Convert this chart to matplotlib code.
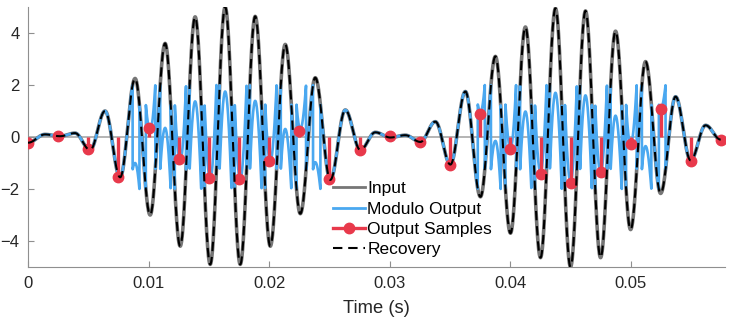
import numpy as np
import matplotlib
matplotlib.use("Agg")
import matplotlib.pyplot as plt
from matplotlib.lines import Line2D
from matplotlib.legend_handler import HandlerLine2D

plt.rcParams["font.family"] = ["Liberation Sans", "DejaVu Sans"]

# peaks / troughs of the input signal
ext_t = [0.0, 0.00141, 0.00266, 0.0039, 0.00515, 0.00639, 0.00764, 0.00888,
         0.01013, 0.01137, 0.01262, 0.01386, 0.01511, 0.01635, 0.0176, 0.01884,
         0.02009, 0.02133, 0.02258, 0.02382, 0.02507, 0.02631, 0.02756, 0.0288,
         0.03005, 0.03129, 0.03254, 0.03378, 0.03503, 0.03627, 0.03752, 0.03876,
         0.04001, 0.04125, 0.0425, 0.04374, 0.04499, 0.04623, 0.04748, 0.04872,
         0.04997, 0.05121, 0.05246, 0.0537, 0.05495, 0.05619, 0.05744]
ext_v = [-0.22, 0.1, 0.03, 0.15, -0.5, 1.0, -1.55, 2.25,
         -3.0, 3.6, -4.2, 4.62, -4.9, 5.0, -4.9, 4.64,
         -4.2, 3.56, -2.95, 2.28, -1.65, 1.04, -0.5, 0.18,
         -0.02, 0.07, -0.19, 0.59, -1.06, 1.75, -2.3, 3.1,
         -3.7, 4.23, -4.64, 4.95, -5.0, 4.85, -4.64, 4.07,
         -3.56, 2.9, -2.17, 1.55, -0.9, 0.45, -0.1]

# red stems
sample_t = [0.0, 0.0025, 0.005, 0.0075, 0.01, 0.0125, 0.015, 0.0175, 0.02, 0.0225,
            0.025, 0.0275, 0.03, 0.0325, 0.035, 0.0375, 0.04, 0.0425, 0.045, 0.0475,
            0.05, 0.0525, 0.055, 0.0575]
sample_v = [-0.22, 0.03, -0.48, -1.53, 0.36, -0.83, -1.57, -1.6, -0.93, 0.24,
            -1.63, -0.51, 0.03, -0.18, -1.06, 0.88, -0.47, -1.43, -1.77, -1.34,
            -0.27, 1.07, -0.92, -0.1]

mod_threshold = 2.0
mod_step = 3.25

x_ticks = [0, 0.01, 0.02, 0.03, 0.04, 0.05]
x_ticklabels = ["0", "0.01", "0.02", "0.03", "0.04", "0.05"]
y_ticks = [-4, -2, 0, 2, 4]

C_INPUT = "#767676"
C_MOD = "#4aa8f0"
C_RED = "#e8394b"
C_AXIS = "#8f8f8f"
C_TEXT = "#262626"


def through_extrema(te, ve, t):
    """Smooth curve that goes through each peak/trough (half-cosine pieces)."""
    te = np.asarray(te)
    ve = np.asarray(ve)
    i = np.clip(np.searchsorted(te, t, side="right") - 1, 0, len(te) - 2)
    s = (t - te[i]) / (te[i + 1] - te[i])
    return ve[i] + (ve[i + 1] - ve[i]) * (1 - np.cos(np.pi * s)) / 2


def folding(x, lam, step):
    """Modulo with hysteresis: fold by `step` once |y| passes `lam`."""
    y = np.empty_like(x)
    k = 0
    for n, xv in enumerate(x):
        v = xv + k * step
        while v > lam:
            k -= 1
            v -= step
        while v < -lam:
            k += 1
            v += step
        y[n] = v
    return y


t = np.linspace(ext_t[0], ext_t[-1], 12000)
x_in = through_extrema(ext_t, ext_v, t)
y_mod = folding(x_in, mod_threshold, mod_step)


class StemHandler(HandlerLine2D):
    # marker at the right end of the legend line, like a matlab stem legend
    def get_xdata(self, legend, xdescent, ydescent, width, height, fontsize):
        xdata, _ = super().get_xdata(legend, xdescent, ydescent, width, height, fontsize)
        return xdata, [xdata[-1]]


fig = plt.figure(figsize=(7.4, 3.26), dpi=100)
ax = fig.add_axes([28 / 740, 59 / 326, 697 / 740, 260 / 326])

ax.axhline(0, color="#a0a0a0", lw=1.1, zorder=1)
ax.plot(t, x_in, color=C_INPUT, lw=2.6, zorder=2)
ax.plot(t, y_mod, color=C_MOD, lw=1.9, zorder=3)
ax.vlines(sample_t, 0, sample_v, color=C_RED, lw=2.4, zorder=4)
ax.plot(sample_t, sample_v, "o", ms=7.5, color=C_RED, zorder=5)
ax.plot(t, x_in, color="black", lw=1.5, dashes=(4.5, 2.8), zorder=6)

ax.set_xlim(0, 0.0578)
ax.set_ylim(-5, 5)
ax.set_xticks(x_ticks)
ax.set_xticklabels(x_ticklabels)
ax.set_yticks(y_ticks)
ax.tick_params(axis="both", direction="in", length=4, width=0.8, color=C_AXIS,
               labelsize=12, labelcolor=C_TEXT)
ax.tick_params(axis="x", pad=6.5)
ax.tick_params(axis="y", pad=6)
for side in ("top", "right"):
    ax.spines[side].set_visible(False)
for side in ("left", "bottom"):
    ax.spines[side].set_color(C_AXIS)
    ax.spines[side].set_linewidth(0.8)
ax.set_xlabel("Time (s)", fontsize=13.2, color=C_TEXT, labelpad=6.5)

handles = [
    Line2D([], [], color=C_INPUT, lw=2.0),
    Line2D([], [], color=C_MOD, lw=2.0),
    Line2D([], [], color=C_RED, lw=2.4, marker="o", ms=7.5),
    Line2D([], [], color="black", lw=1.5, dashes=(4.5, 2.8)),
]
labels = ["Input", "Modulo Output", "Output Samples", "Recovery"]
ax.legend(handles, labels, loc="upper left", bbox_to_anchor=(0.437, 0.33),
          frameon=False, fontsize=12.5, handlelength=1.84, handletextpad=0.17,
          labelspacing=0.3, borderpad=0, borderaxespad=0,
          handler_map={handles[2]: StemHandler()})

fig.savefig("out.png", dpi=100)
